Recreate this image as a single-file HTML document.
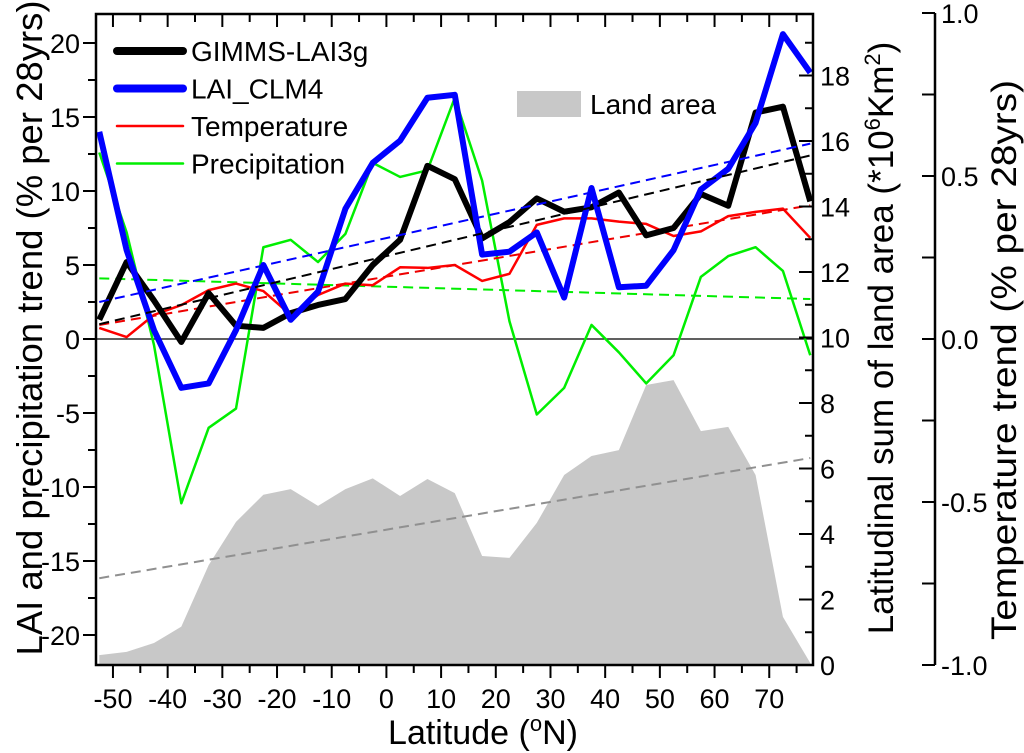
<!DOCTYPE html>
<html><head><meta charset="utf-8"><style>
body{margin:0;background:#fff;}
svg{display:block;font-family:"Liberation Sans",Arial,sans-serif;}
</style></head><body>
<svg id="chart" width="1024" height="753" viewBox="0 0 1024 753" xmlns="http://www.w3.org/2000/svg"></svg>
<script>
const latitudes=[-52.5,-47.5,-42.5,-37.5,-32.5,-27.5,-22.5,-17.5,-12.5,-7.5,-2.5,2.5,7.5,12.5,17.5,22.5,27.5,32.5,37.5,42.5,47.5,52.5,57.5,62.5,67.5,72.5,77.5];
const gimmsLai=[1.3,5.2,2.6,-0.2,3.1,0.9,0.75,1.75,2.3,2.7,5.0,6.7,11.7,10.8,6.8,7.9,9.5,8.6,8.9,9.9,7.0,7.5,9.8,9.0,15.3,15.7,9.3];
const clmLai=[14.0,6.0,0.6,-3.3,-3.0,0.6,5.0,1.3,3.2,8.8,11.9,13.4,16.3,16.5,5.7,5.9,7.2,2.8,10.2,3.5,3.6,6.0,10.1,11.5,14.6,20.6,18.0];
const temperature=[0.034,0.006,0.074,0.104,0.15,0.17,0.147,0.074,0.135,0.17,0.165,0.22,0.218,0.227,0.178,0.2,0.35,0.37,0.37,0.36,0.353,0.316,0.33,0.377,0.39,0.4,0.31];
const precipitation=[12.6,7.2,-0.4,-11.1,-6.0,-4.7,6.2,6.7,5.2,7.1,11.9,10.95,11.4,16.3,10.7,1.2,-5.1,-3.3,0.95,-0.9,-3.0,-1.1,4.2,5.6,6.2,4.6,-1.1];
const landArea=[0.3,0.4,0.67,1.17,3.05,4.37,5.2,5.37,4.86,5.37,5.7,5.16,5.68,5.25,3.33,3.27,4.34,5.8,6.38,6.56,8.55,8.7,7.14,7.27,5.8,1.47,0.06];
const trendGimms=[1.0,12.4];
const trendClm=[2.5,13.2];
const trendPrecip=[4.1,2.7];
const trendTemp=[0.043,0.41];
const trendLand=[2.65,6.32];
const xTicks=[-50,-40,-30,-20,-10,0,10,20,30,40,50,60,70];
const leftTicks=[-20,-15,-10,-5,0,5,10,15,20];
const landTicks=[0,2,4,6,8,10,12,14,16,18];
const tempTicks=["-1.0","-0.5","0.0","0.5","1.0"];

const NS="http://www.w3.org/2000/svg";
const svg=document.getElementById('chart');
const L=96,R=813,T=14,B=665;
const xMin=-53.1,xMax=78;
const X=v=>L+(v-xMin)/(xMax-xMin)*(R-L);
const YL=v=>339-v*14.8;
const YA=v=>665-v*32.75;
const YT=v=>339-v*326;
function mk(tag,attrs,parent){const e=document.createElementNS(NS,tag);for(const k in attrs)e.setAttribute(k,attrs[k]);(parent||svg).appendChild(e);return e;}
function txt(s,attrs){const e=mk('text',attrs);e.textContent=s;return e;}

let d='M'+X(latitudes[0])+','+B;
latitudes.forEach((v,i)=>{d+=' L'+X(v)+','+YA(landArea[i]);});
d+=' L'+X(latitudes[latitudes.length-1])+','+B+' Z';
let e=mk('path',{d:d,fill:'#c8c8c8'});



e=mk('line',{x1:L,x2:R,y1:YL(0),y2:YL(0),stroke:'#000','stroke-width':1.2});



function trend(vals,yf,color,name){
  const x0=X(latitudes[0]),x1=X(latitudes[latitudes.length-1]);
  const t=mk('line',{x1:x0,x2:x1,y1:yf(vals[0]),y2:yf(vals[1]),stroke:color,'stroke-width':2,'stroke-dasharray':'10,6'});
  
  
}
function series(vals,yf,color,w,name){
  const pts=latitudes.map((v,i)=>X(v)+','+yf(vals[i])).join(' ');
  const p=mk('polyline',{points:pts,fill:'none',stroke:color,'stroke-width':w,'stroke-linejoin':'round'});
  
  
}
trend(trendLand,YA,'#909090','land-area-trend');
series(precipitation,YL,'#00ee00',2.5,'precipitation-line');
trend(trendPrecip,YL,'#00ee00','precipitation-trend');
series(temperature,YT,'#ff0000',2.5,'temperature-line');
trend(trendTemp,YT,'#ee0000','temperature-trend');
series(gimmsLai,YL,'#000',6,'gimms-lai-line');
series(clmLai,YL,'#0000ff',6,'clm-lai-line');
trend(trendGimms,YL,'#000','gimms-lai-trend');
trend(trendClm,YL,'#0000ff','clm-lai-trend');

e=mk('path',{d:`M${L},${T} H${R} V${B} H${L} Z`,fill:'none',stroke:'#000','stroke-width':2.5});



for(let v=-50;v<=75;v+=5){
  const major=v%10===0;const x=X(v);
  mk('line',{x1:x,x2:x,y1:B,y2:B+(major?13:8),stroke:'#000','stroke-width':2});
  mk('line',{x1:x,x2:x,y1:T,y2:T+(major?13:8),stroke:'#000','stroke-width':2});
}
xTicks.forEach(v=>{const t=txt(String(v),{x:X(v),y:B+43,'font-size':27,'text-anchor':'middle'});

});
for(let v=-20;v<=20;v+=2.5){const major=v%5===0;
  mk('line',{x1:L-(major?13:8),x2:L,y1:YL(v),y2:YL(v),stroke:'#000','stroke-width':2});}
leftTicks.forEach(v=>{const t=txt(String(v),{x:L-16,y:YL(v)+10,'font-size':27,'text-anchor':'end'});

});
for(let v=0;v<=19;v+=1){const major=v%2===0;
  mk('line',{x1:R-(major?14:8),x2:R,y1:YA(v),y2:YA(v),stroke:'#000','stroke-width':2});}
landTicks.forEach(v=>{const t=txt(String(v),{x:R+7,y:YA(v)+10,'font-size':27});

});
const TX=935;
e=mk('line',{x1:TX,x2:TX,y1:YT(1),y2:YT(-1),stroke:'#000','stroke-width':2.5});


for(let v=-1;v<=1.001;v+=0.25){
  mk('line',{x1:TX-13,x2:TX,y1:YT(v),y2:YT(v),stroke:'#000','stroke-width':2});}
tempTicks.forEach(s=>{const t=txt(s,{x:TX+6,y:YT(parseFloat(s))+10,'font-size':27});

});

e=txt('LAI and precipitation trend (% per 28yrs)',{transform:'translate(42,328) rotate(-90)','font-size':36,'text-anchor':'middle',textLength:655,lengthAdjust:'spacingAndGlyphs'});


e=mk('text',{transform:'translate(893,338) rotate(-90)','font-size':35,'text-anchor':'middle'});
e.innerHTML='Latitudinal sum of land area (*10<tspan font-size="22" dy="-13">6</tspan><tspan dy="13">Km</tspan><tspan font-size="22" dy="-13">2</tspan><tspan dy="13">)</tspan>';


e=txt('Temperature trend (% per 28yrs)',{transform:'translate(1016,360) rotate(-90)','font-size':35,'text-anchor':'middle',textLength:560,lengthAdjust:'spacingAndGlyphs'});


e=mk('text',{x:483,y:744,'font-size':34,'text-anchor':'middle'});
e.innerHTML='Latitude (<tspan font-size="22" dy="-13">o</tspan><tspan dy="13">N)</tspan>';



const leg=[['GIMMS-LAI3g','#000',8],['LAI_CLM4','#0000ff',8],['Temperature','#ff0000',2.5],['Precipitation','#00ee00',2.5]];
leg.forEach((l,i)=>{const y=51+i*37.5;
  const g=mk('g',{});
  
  
  mk('line',{x1:117,x2:183,y1:y,y2:y,stroke:l[1],'stroke-width':l[2],'stroke-linecap':'round'},g);
  const t=mk('text',{x:191,y:y+10,'font-size':28},g);t.textContent=l[0];
});
const g=mk('g',{});


mk('rect',{x:517,y:91,width:64,height:26,fill:'#c8c8c8'},g);
const lt=mk('text',{x:590,y:114,'font-size':28},g);lt.textContent='Land area';
</script>
</body></html>
